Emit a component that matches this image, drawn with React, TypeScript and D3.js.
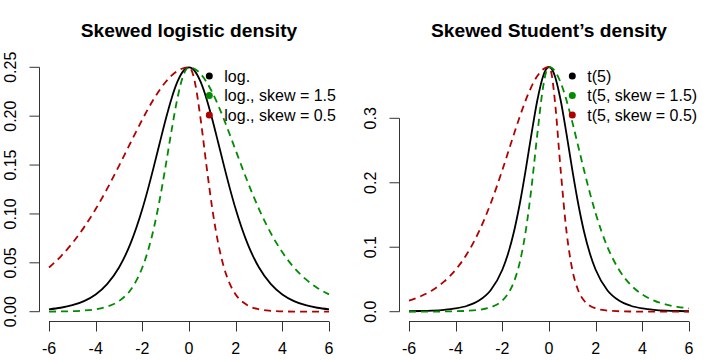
import React from "react";
import * as d3 from "d3";

// shared x grid for all curves
const xGrid = [-6, -5.5, -5, -4.5, -4, -3.5, -3, -2.5, -2, -1.75, -1.5, -1.25, -1, -0.75, -0.5, -0.25, -0.125, 0, 0.125, 0.25, 0.5, 0.75, 1, 1.25, 1.5, 1.75, 2, 2.5, 3, 3.5, 4, 4.5, 5, 5.5, 6];

// Skewed logistic panel
const logBase = [0.00247, 0.00405, 0.00665, 0.01087, 0.01767, 0.02846, 0.04518, 0.07011, 0.10499, 0.12614, 0.14914, 0.17310, 0.19661, 0.21790, 0.23500, 0.24613, 0.24903, 0.25, 0.24903, 0.24613, 0.23500, 0.21790, 0.19661, 0.17310, 0.14914, 0.12614, 0.10499, 0.07011, 0.04518, 0.02846, 0.01767, 0.01087, 0.00665, 0.00405, 0.00247];
const logSkew15 = [0.00012, 0.00026, 0.00055, 0.00117, 0.00247, 0.00519, 0.01087, 0.02245, 0.04518, 0.06296, 0.08626, 0.11531, 0.14914, 0.18503, 0.21790, 0.24141, 0.24782, 0.25, 0.24957, 0.24827, 0.24318, 0.23500, 0.22415, 0.21117, 0.19661, 0.18107, 0.16509, 0.13364, 0.10499, 0.08060, 0.06076, 0.04518, 0.03326, 0.02430, 0.01767];
const logSkew05 = [0.04518, 0.05645, 0.07011, 0.08626, 0.10499, 0.12614, 0.14914, 0.17310, 0.19661, 0.20766, 0.21790, 0.22710, 0.23500, 0.24141, 0.24613, 0.24903, 0.24976, 0.25, 0.24613, 0.23500, 0.19661, 0.14914, 0.10499, 0.07011, 0.04518, 0.02846, 0.01767, 0.00665, 0.00247, 0.00091, 0.00034, 0.00012, 0.00005, 0.00002, 0.00001];

// Skewed Student t(5) panel
const tBase = [0.00069, 0.00108, 0.00176, 0.00295, 0.00512, 0.00924, 0.01729, 0.03333, 0.06509, 0.09054, 0.12452, 0.16790, 0.21968, 0.27570, 0.32792, 0.36572, 0.37607, 0.37961, 0.37607, 0.36572, 0.32792, 0.27570, 0.21968, 0.16790, 0.12452, 0.09054, 0.06509, 0.03333, 0.01729, 0.00924, 0.00512, 0.00295, 0.00176, 0.00108, 0.00069];
const tSkew15 = [0.000075, 0.00012, 0.00021, 0.00037, 0.00069, 0.00137, 0.00295, 0.00685, 0.01729, 0.02823, 0.04657, 0.07684, 0.12452, 0.19291, 0.27570, 0.34930, 0.37172, 0.37961, 0.37803, 0.37335, 0.35538, 0.32792, 0.29403, 0.25698, 0.21968, 0.18435, 0.15240, 0.10085, 0.06509, 0.04165, 0.02671, 0.01729, 0.01135, 0.00756, 0.00512];
const tSkew05 = [0.01729, 0.02393, 0.03333, 0.04657, 0.06509, 0.09054, 0.12452, 0.16790, 0.21968, 0.24758, 0.27570, 0.30292, 0.32792, 0.34930, 0.36572, 0.37607, 0.37872, 0.37961, 0.36572, 0.32792, 0.21968, 0.12452, 0.06509, 0.03333, 0.01729, 0.00924, 0.00512, 0.00176, 0.00069, 0.00030, 0.00014, 0.000075, 0.000041, 0.000024, 0.000014];

const xTicks = [-6, -4, -2, 0, 2, 4, 6];
const yTicksLog = [0, 0.05, 0.1, 0.15, 0.2, 0.25];
const yTicksT = [0, 0.1, 0.2, 0.3];

const titles = ["Skewed logistic density", "Skewed Student\u2019s density"];
const legendLog = ["log.", "log., skew = 1.5", "log., skew = 0.5"];
const legendT = ["t(5)", "t(5, skew = 1.5)", "t(5, skew = 0.5)"];

const COLORS = ["#000000", "#008B00", "#B00000"];
const DASH = [null, "7,5", "7,5"];
const FONT = "'Liberation Sans', Arial, sans-serif";

type PanelProps = {
  offset: number;
  title: string;
  series: number[][];
  yMax: number;
  yTopPx: number;
  yTicks: number[];
  yDigits: number;
  legend: string[];
  legendX: number;
};

function Panel({ offset, title, series, yMax, yTopPx, yTicks, yDigits, legend, legendX }: PanelProps) {
  const x = d3.scaleLinear().domain([-6, 6]).range([offset + 49, offset + 329]);
  const y = d3.scaleLinear().domain([0, yMax]).range([311.7, yTopPx]);
  const line = d3
    .line<number>()
    .x((_, i) => x(xGrid[i]))
    .y((d) => y(d))
    .curve(d3.curveMonotoneX);
  const axisX = offset + 39.5;
  const axisY = 321.5;
  const legendYs = [76, 95.5, 115];
  return (
    <g>
      <text x={offset + 189} y={36.5} textAnchor="middle" fontFamily={FONT} fontWeight="bold" fontSize={19.2}>
        {title}
      </text>
      {/* x axis */}
      <line x1={x(-6)} x2={x(6)} y1={axisY} y2={axisY} stroke="#333" strokeWidth={1} />
      {xTicks.map((t) => (
        <g key={"xt" + t}>
          <line x1={Math.round(x(t)) + 0.5} x2={Math.round(x(t)) + 0.5} y1={axisY} y2={axisY + 10} stroke="#333" />
          <text x={x(t)} y={354} textAnchor="middle" fontFamily={FONT} fontSize={16}>
            {t}
          </text>
        </g>
      ))}
      {/* y axis */}
      <line x1={axisX} x2={axisX} y1={y(0)} y2={y(yTicks[yTicks.length - 1])} stroke="#333" />
      {yTicks.map((t) => (
        <g key={"yt" + t}>
          <line x1={axisX - 10} x2={axisX} y1={y(t)} y2={y(t)} stroke="#333" />
          <text
            transform={`translate(${offset + 15.5},${y(t)}) rotate(-90)`}
            textAnchor="middle"
            fontFamily={FONT}
            fontSize={16}
          >
            {t.toFixed(yDigits)}
          </text>
        </g>
      ))}
      {/* curves */}
      {series.map((s, i) => (
        <path
          key={"s" + i}
          d={line(s) || ""}
          fill="none"
          stroke={COLORS[i]}
          strokeWidth={1.8}
          strokeDasharray={DASH[i] || undefined}
        />
      ))}
      {/* legend */}
      {legend.map((l, i) => (
        <g key={"lg" + i}>
          <circle cx={offset + legendX} cy={legendYs[i]} r={3.5} fill={COLORS[i]} />
          <text x={offset + legendX + 15} y={legendYs[i]} dominantBaseline="central" fontFamily={FONT} fontSize={16}>
            {l}
          </text>
        </g>
      ))}
    </g>
  );
}

export default function App() {
  return (
    <svg width={720} height={360} style={{ position: "absolute", left: 0, top: 0, background: "#fff" }}>
      <rect width={720} height={360} fill="#fff" />
      <Panel
        offset={0}
        title={titles[0]}
        series={[logBase, logSkew15, logSkew05]}
        yMax={0.25}
        yTopPx={67.3}
        yTicks={yTicksLog}
        yDigits={2}
        legend={legendLog}
        legendX={209.3}
      />
      <Panel
        offset={360}
        title={titles[1]}
        series={[tBase, tSkew15, tSkew05]}
        yMax={0.3}
        yTopPx={118.3}
        yTicks={yTicksT}
        yDigits={1}
        legend={legendT}
        legendX={212.3}
      />
    </svg>
  );
}
